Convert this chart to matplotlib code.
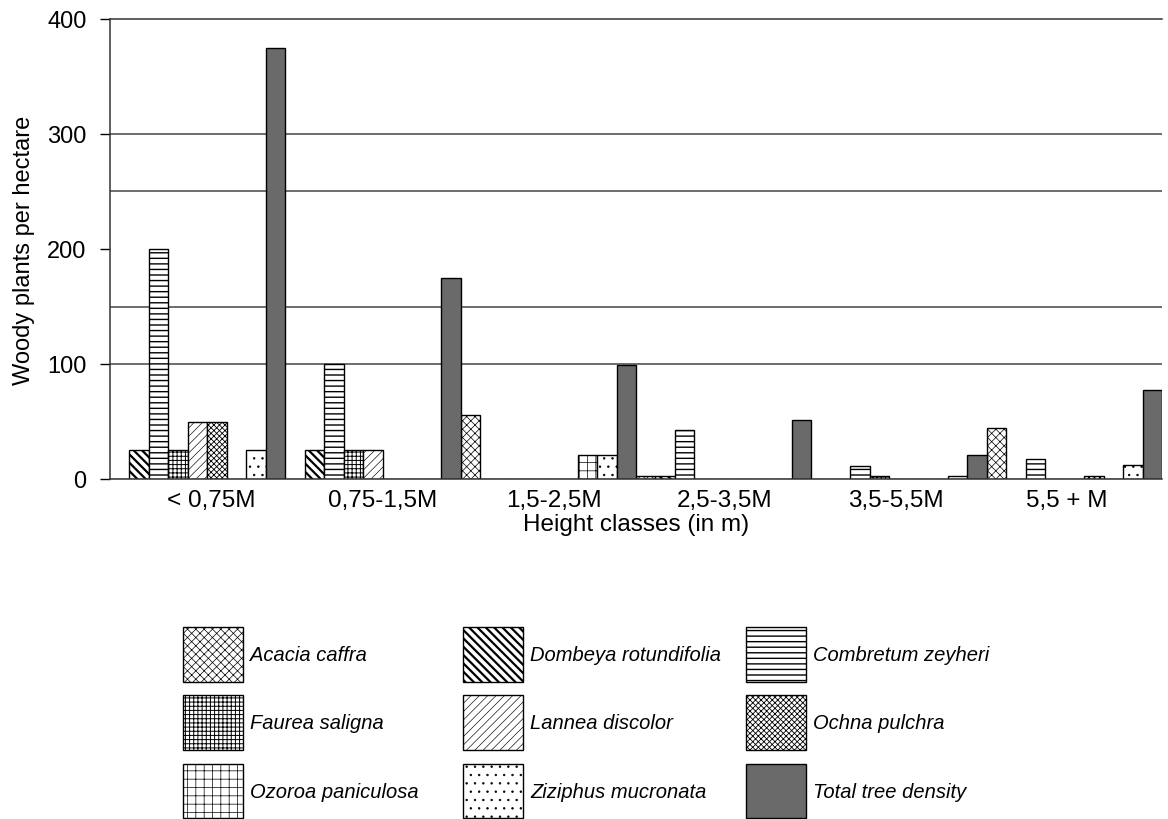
import numpy as np
import matplotlib
matplotlib.use("Agg")
import matplotlib.pyplot as plt
from matplotlib.patches import Patch

plt.rcParams["font.family"] = ["Liberation Sans", "DejaVu Sans"]

# Height classes on the x axis
height_classes = ["< 0,75M", "0,75-1,5M", "1,5-2,5M", "2,5-3,5M", "3,5-5,5M", "5,5 + M"]

species = [
    "Acacia caffra", "Dombeya rotundifolia", "Combretum zeyheri",
    "Faurea saligna", "Lannea discolor", "Ochna pulchra",
    "Ozoroa paniculosa", "Ziziphus mucronata", "Total tree density",
]

# Woody plants per hectare in each height class
acacia_caffra = [0, 0, 56, 3, 0, 44]
dombeya_rotundifolia = [25, 25, 0, 3, 0, 0]
combretum_zeyheri = [200, 100, 0, 43, 11, 17]
faurea_saligna = [25, 25, 0, 0, 3, 0]
lannea_discolor = [50, 25, 0, 0, 0, 0]
ochna_pulchra = [50, 0, 0, 0, 0, 3]
ozoroa_paniculosa = [0, 0, 21, 0, 0, 0]
ziziphus_mucronata = [25, 0, 21, 0, 3, 12]
total_tree_density = [375, 175, 99, 51, 21, 77]

y_ticks = [0, 100, 200, 300, 400]
grid_levels = [100, 150, 250, 300]

series = [acacia_caffra, dombeya_rotundifolia, combretum_zeyheri,
          faurea_saligna, lannea_discolor, ochna_pulchra,
          ozoroa_paniculosa, ziziphus_mucronata, total_tree_density]

# fill pattern per species: (facecolor, hatch, hatch line width)
patterns = [
    ("white", "xxxx", 0.5),
    ("white", "\\\\\\\\", 1.6),
    ("white", "---", 1.0),
    ("white", "++++", 0.7),
    ("white", "////", 0.45),
    ("white", "xxxxxx", 0.6),
    ("white", "++", 0.5),
    ("white", "..", 0.5),
    ("#6a6a6a", "", 0.5),
]

fig = plt.figure(figsize=(11.68, 8.2), dpi=100)
fig.patch.set_facecolor("white")
ax = fig.add_axes([110 / 1168, 1 - 480 / 820, 1052 / 1168, 460 / 820])

x = np.arange(len(height_classes))
n = len(series)
w = 1.0 / n


def apply_hatch_width(patch, lw):
    if hasattr(patch, "set_hatch_linewidth"):
        patch.set_hatch_linewidth(lw)


for lvl in grid_levels:
    ax.axhline(lvl, color="#454545", lw=1.1, zorder=0)

handles = []
for k, (vals, name, (fc, hatch, hlw)) in enumerate(zip(series, species, patterns)):
    offs = -0.5 + (k + 0.5) * w
    bars = ax.bar(x + offs, vals, width=w, facecolor=fc, edgecolor="black",
                  linewidth=1.0, hatch=hatch if hatch else None, zorder=2)
    for b in bars:
        apply_hatch_width(b, hlw)
    h = Patch(facecolor=fc, edgecolor="black", linewidth=1.0,
              hatch=hatch if hatch else None, label=name)
    apply_hatch_width(h, hlw)
    handles.append(h)

ax.set_xlim(-0.5, len(height_classes) - 0.5)
ax.set_ylim(0, 400)
ax.set_yticks(y_ticks)
ax.tick_params(axis="y", direction="out", length=7, width=1.0, pad=10,
               labelsize=17)
ax.set_xticks(x + 0.08 - 0.025 * x)
ax.set_xticklabels(height_classes)
ax.tick_params(axis="x", length=0, pad=7, labelsize=17.5)

ax.set_xlabel("Height classes (in m)", fontsize=17.5, labelpad=2)
ax.set_ylabel("Woody plants per hectare", fontsize=17, labelpad=9)

for side in ["left", "bottom", "top"]:
    ax.spines[side].set_color("#333333")
    ax.spines[side].set_linewidth(1.1)
ax.spines["right"].set_visible(False)

# legend: three columns, each placed on its own
col_left = [183, 463, 746]
for c in range(3):
    idx = [c + 3 * r for r in range(3)]
    leg = fig.legend(handles=[handles[i] for i in idx], loc="upper left",
                     bbox_to_anchor=(col_left[c] / 1168, 1 - 628 / 820),
                     frameon=False, borderpad=0, borderaxespad=0,
                     handlelength=3.0, handleheight=3.8, handletextpad=0.35,
                     labelspacing=0.68,
                     prop={"size": 14.5, "style": "italic"})
    for i, p in zip(idx, leg.get_patches()):
        apply_hatch_width(p, patterns[i][2])

fig.savefig("out.png", dpi=100, facecolor="white")
